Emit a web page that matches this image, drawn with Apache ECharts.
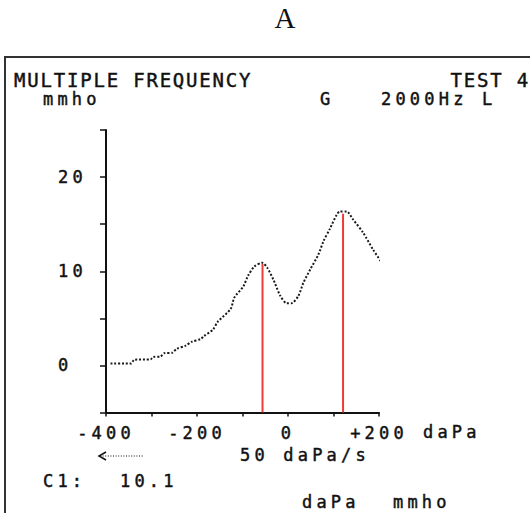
<!DOCTYPE html>
<html><head><meta charset="utf-8">
<script src="https://cdn.jsdelivr.net/npm/echarts@6/dist/echarts.min.js"></script>
<style>
html,body{margin:0;padding:0;background:#fff;}
#c{width:530px;height:513px;}
#c text{letter-spacing:4.2px;}
#c text[style*="19px"]{letter-spacing:1.8px;}
#c text[style*="Serif"]{letter-spacing:0;}
</style></head><body><div id="c"></div>
<script>
// Tympanogram curve (pressure in daPa, admittance in mmho)
const pressure   = [-390,-345,-338,-302,-296,-280,-272,-254,-245,-225,-212,-192,-185,-165,-155,-126,-118,-98,-88,-74,-57,-46,-32,-17,-3,8,23,34,49,67,78,92,107,114,129,143,165,187,209];
const admittance = [0.2,0.2,0.6,0.65,0.9,0.95,1.3,1.35,1.75,2.1,2.5,2.8,3.1,3.8,4.6,6.0,7.2,8.4,9.5,10.5,10.9,10.4,9.1,7.4,6.6,6.6,7.4,8.8,10.2,11.8,13.2,14.5,16.0,16.35,16.35,15.5,14.1,12.3,10.7];
// Red peak markers
const peakPressure   = [-56, 121];
const peakAdmittance = [10.8, 16.1];
// Tick labels
const xLabelValues = [-400, -200, 0, 200];
const xLabelTexts  = ['-400', '-200', '0', '+200'];
const yLabelValues = [0, 10, 20];
const yLabelTexts  = ['0', '10', '20'];

const F = "'DejaVu Sans Mono', monospace";
const INK = '#111';
const EMB = 0.45; // slight stroke to embolden the printer-style text

const chart = echarts.init(document.getElementById('c'), null, {renderer: 'svg'});

const curveData = pressure.map((p, i) => [p, admittance[i]]);
const series = [{
  type: 'line', data: curveData, showSymbol: false, smooth: 0.25, silent: true,
  lineStyle: {color: '#1a1a1a', width: 2, type: [2, 1.8], cap: 'butt'}, z: 3
}];
peakPressure.forEach((p, i) => {
  series.push({
    type: 'line', data: [[p, -5], [p, peakAdmittance[i]]], showSymbol: false, silent: true,
    lineStyle: {color: '#f03a3a', width: 2}, z: 2
  });
});

function txt(text, x, y, size, align, family, border) {
  return {type: 'text', x: x, y: y, silent: true,
    style: {text: text, font: size + 'px ' + (family || F), fill: INK,
      stroke: INK, lineWidth: border === undefined ? EMB : border,
      align: align || 'left', verticalAlign: 'middle'}};
}

const labelBase = {color: INK, fontFamily: F, fontSize: 17, textBorderColor: INK, textBorderWidth: EMB};

chart.setOption({
  animation: false,
  backgroundColor: '#fff',
  grid: {left: 106, right: 151, top: 130, bottom: 100.5, containLabel: false, outerBoundsMode: 'none'},
  xAxis: {
    type: 'value', min: -400, max: 200, interval: 100,
    axisLine: {onZero: false, lineStyle: {color: INK, width: 2}},
    axisTick: {show: true, length: 4, lineStyle: {color: INK, width: 1.5}},
    splitLine: {show: false},
    axisLabel: Object.assign({}, labelBase, {
      margin: 12,
      formatter: v => { const k = xLabelValues.indexOf(v); return k >= 0 ? xLabelTexts[k] : ''; }
    })
  },
  yAxis: {
    type: 'value', min: -5, max: 25, interval: 5,
    axisLine: {onZero: false, lineStyle: {color: INK, width: 2}},
    axisTick: {show: true, length: 6, lineStyle: {color: INK, width: 1.5}},
    splitLine: {show: false},
    axisLabel: Object.assign({}, labelBase, {
      margin: 48, align: 'left',
      formatter: v => { const k = yLabelValues.indexOf(v); return k >= 0 ? yLabelTexts[k] : ''; }
    })
  },
  series: series,
  graphic: [
    txt('A', 285, 18, 29, 'center', "'Liberation Serif', serif", 0),
    {type: 'line', silent: true, shape: {x1: 4, y1: 57, x2: 530, y2: 57}, style: {stroke: '#333', lineWidth: 2}},
    {type: 'line', silent: true, shape: {x1: 5, y1: 56, x2: 5, y2: 513}, style: {stroke: '#333', lineWidth: 2}},
    txt('MULTIPLE FREQUENCY', 14, 80, 19),
    txt('TEST 4', 530, 80, 19, 'right'),
    txt('mmho', 43, 99, 17),
    txt('G', 320, 99, 17),
    txt('2000Hz L', 381, 99, 17),
    txt('daPa', 423, 432, 17),
    {type: 'polyline', silent: true, shape: {points: [[106, 452], [99, 456], [106, 460]]}, style: {stroke: INK, lineWidth: 1.5, fill: null}},
    {type: 'line', silent: true, shape: {x1: 100, y1: 456, x2: 143, y2: 456}, style: {stroke: INK, lineWidth: 1.2, lineDash: [1, 1.6]}},
    txt('50 daPa/s', 240, 455, 17),
    txt('C1:', 43, 481, 17),
    txt('10.1', 120, 481, 17),
    txt('daPa', 302, 502, 17),
    txt('mmho', 393, 502, 17)
  ]
});
</script></body></html>
